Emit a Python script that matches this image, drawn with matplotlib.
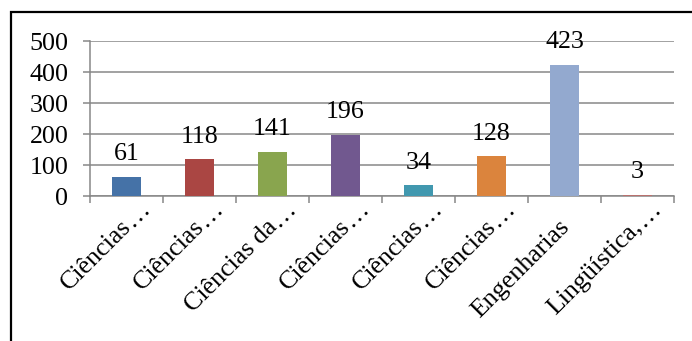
import matplotlib.pyplot as plt
import matplotlib.patches as mpatches
import matplotlib.transforms as mtransforms
import numpy as np

# data
labels = ['Ciências…', 'Ciências…', 'Ciências da…', 'Ciências…',
          'Ciências…', 'Ciências…', 'Engenharias', 'Lingüística,…']
values = [61, 118, 141, 196, 34, 128, 423, 3]
colors = ['#4572A7', '#AA4643', '#89A54E', '#71588F',
          '#4198AF', '#DB843D', '#93A9CF', '#B9716E']
yticks = [0, 100, 200, 300, 400, 500]

plt.rcParams['font.family'] = ['Liberation Serif', 'DejaVu Serif']
fs = 18.7
grid_c = '#878787'

fig = plt.figure(figsize=(6.92, 3.41), dpi=100)
ax = fig.add_axes([90/692, 1-196/341, (674-90)/692, (196-41)/341])

x = np.arange(len(values))
bars = ax.bar(x, values, width=0.41, color=colors, zorder=3)
for xi, v in zip(x, values):
    ax.annotate(str(v), (xi, v), xytext=(0, 8.5), textcoords='offset points',
                ha='center', va='bottom', fontsize=fs, zorder=4)

ax.set_xlim(-0.5, len(values)-0.5)
ax.set_ylim(0, 500)
ax.set_yticks(yticks)
ax.set_yticklabels([str(t) for t in yticks], fontsize=fs)
ax.yaxis.grid(True, color=grid_c, linewidth=1.1, zorder=0)
ax.tick_params(axis='y', length=5, width=1.1, color=grid_c, pad=10.5)

# category labels: text ends at the anchor, the ellipsis hangs past it (as Excel draws it)
ax.set_xticks(x)
ax.set_xticklabels([])
ax.set_xticks(np.arange(len(values)+1)-0.5, minor=True)
ax.tick_params(axis='x', which='major', length=0)
ax.tick_params(axis='x', which='minor', length=5, width=1.1, color=grid_c)
lab_tr = mtransforms.offset_copy(ax.transData, fig=fig, x=5.5, y=-32, units='dots')
for xi, lab in zip(x, labels):
    main = lab.rstrip('…')
    ax.text(xi, 0, main, transform=lab_tr, fontsize=fs, rotation=45,
            ha='right', va='baseline', rotation_mode='anchor', clip_on=False)
    if lab.endswith('…'):
        ax.text(xi, 0, '…', transform=lab_tr, fontsize=fs, rotation=45,
                ha='left', va='baseline', rotation_mode='anchor', clip_on=False)

for s in ['top', 'right']:
    ax.spines[s].set_visible(False)
for s in ['left', 'bottom']:
    ax.spines[s].set_color(grid_c)
    ax.spines[s].set_linewidth(1.1)

# outer frame of the chart area (right and bottom sides fall outside the picture)
frame = mpatches.Rectangle((11/692, -0.1), 1.2, 1-12/341+0.1,
                           transform=fig.transFigure, fill=False,
                           edgecolor='black', linewidth=1.6, clip_on=False)
fig.patches.append(frame)

fig.savefig('out.png', dpi=100)
